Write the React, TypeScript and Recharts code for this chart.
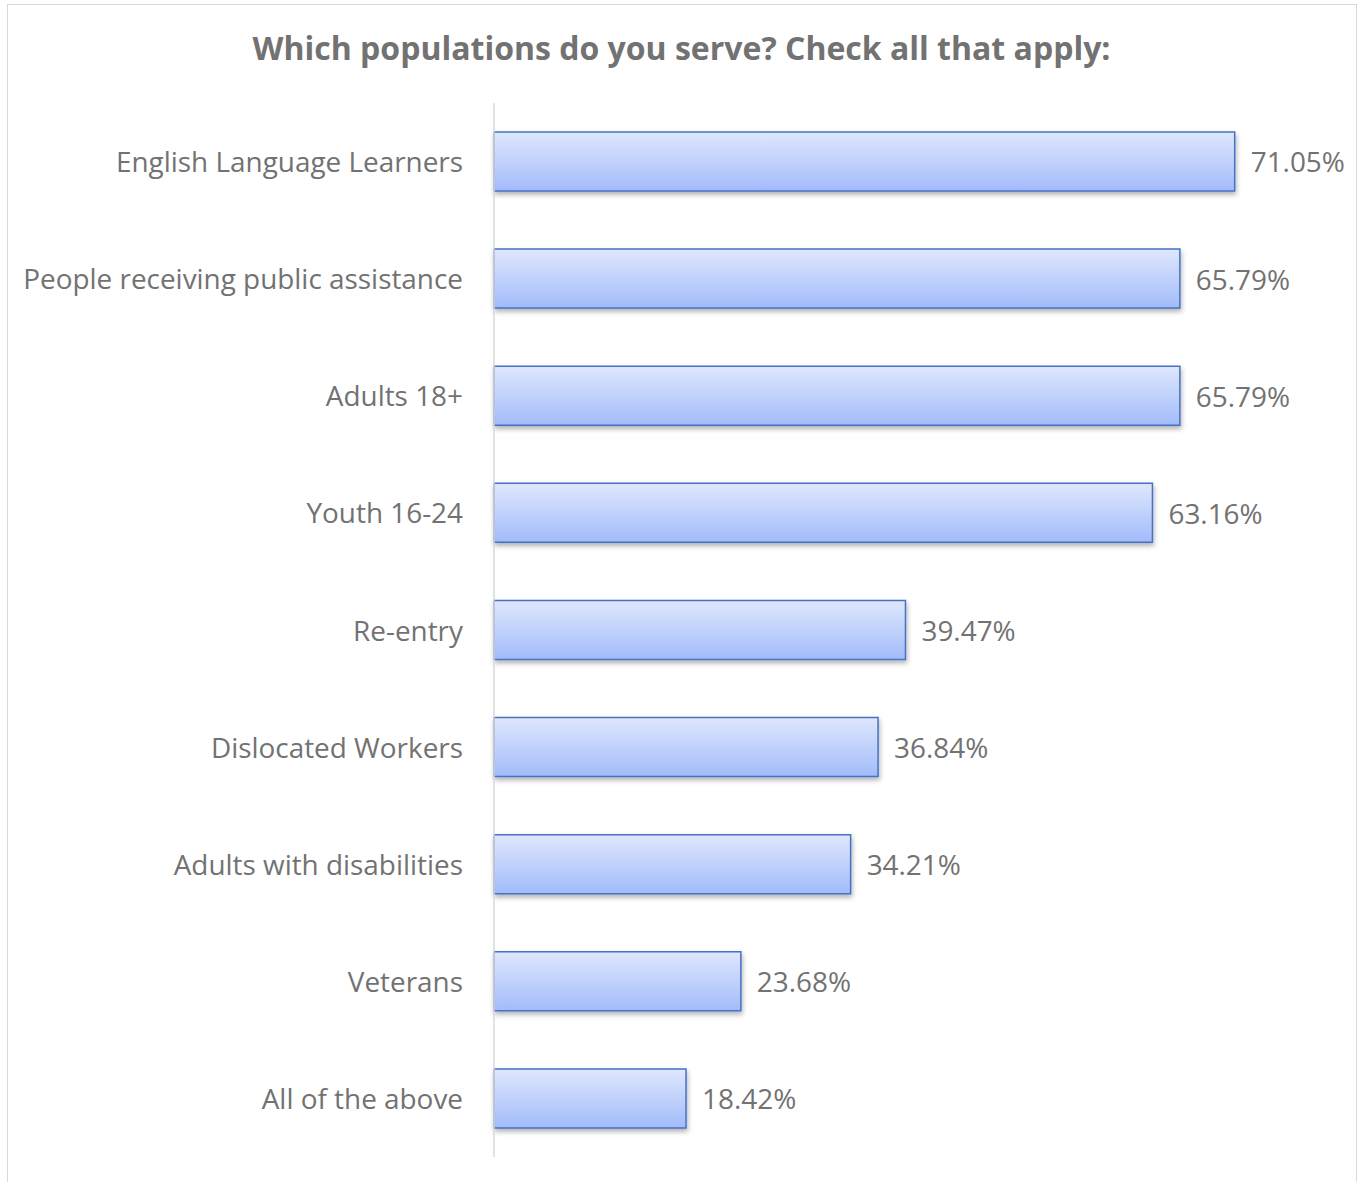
import React from 'react';
import { BarChart, Bar, XAxis, YAxis, LabelList } from 'recharts';

const categories = [
  'English Language Learners',
  'People receiving public assistance',
  'Adults 18+',
  'Youth 16-24',
  'Re-entry',
  'Dislocated Workers',
  'Adults with disabilities',
  'Veterans',
  'All of the above',
];
const values = [71.05, 65.79, 65.79, 63.16, 39.47, 36.84, 34.21, 23.68, 18.42];
const title = 'Which populations do you serve? Check all that apply:';

const data = categories.map((name, i) => ({ name, value: values[i] }));

const FONT = '"Open Sans", sans-serif';
const TEXT_COLOR = '#727272';

const CategoryTick = (props: any) => {
  const { x, y, payload } = props;
  return (
    <text x={x} y={y} dy="0.38em" textAnchor="end" fill={TEXT_COLOR} fontSize={27.9} fontFamily={FONT}>
      {payload.value}
    </text>
  );
};

export default function App() {
  return (
    <div style={{ position: 'absolute', left: 0, top: 0, width: 1365, height: 1182, background: '#fff', overflow: 'hidden' }}>
      <div style={{ position: 'absolute', left: 7, top: 4, width: 1350, height: 1200, border: '1px solid #d9d9d9', boxSizing: 'border-box' }} />
      <div style={{ position: 'absolute', left: 0, top: 26, width: 1363, textAlign: 'center', fontFamily: FONT, fontWeight: 700, fontSize: 32, color: '#727272', lineHeight: '44px' }}>
        {title}
      </div>
      <div style={{ position: 'absolute', left: 0, top: 0 }}>
        <BarChart
          width={1365}
          height={1182}
          data={data}
          layout="vertical"
          margin={{ top: 103, right: 37, bottom: 25, left: 0 }}
        >
          <defs>
            <linearGradient id="barGrad" x1="0" y1="0" x2="0" y2="1">
              <stop offset="0%" stopColor="#dfe7fd" />
              <stop offset="100%" stopColor="#a2bbfa" />
            </linearGradient>
            <filter id="barShadow" x="-5%" y="-20%" width="110%" height="160%">
              <feDropShadow dx="1" dy="3" stdDeviation="2.5" floodColor="#000" floodOpacity="0.3" />
            </filter>
          </defs>
          <XAxis type="number" domain={[0, 80]} hide />
          <YAxis
            type="category"
            dataKey="name"
            width={494}
            axisLine={{ stroke: '#d9d9d9', strokeWidth: 1.5 }}
            tickLine={false}
            tickMargin={25}
            tick={<CategoryTick />}
            interval={0}
          />
          <Bar
            dataKey="value"
            barSize={59}
            fill="url(#barGrad)"
            stroke="#4472c4"
            strokeWidth={1.5}
            filter="url(#barShadow)"
            isAnimationActive={false}
          >
            <LabelList
              dataKey="value"
              position="right"
              offset={16}
              fill={TEXT_COLOR}
              fontSize={27.9}
              fontFamily={FONT}
              dy={1}
              formatter={(v: any) => `${Number(v).toFixed(2)}%`}
            />
          </Bar>
        </BarChart>
      </div>
    </div>
  );
}
